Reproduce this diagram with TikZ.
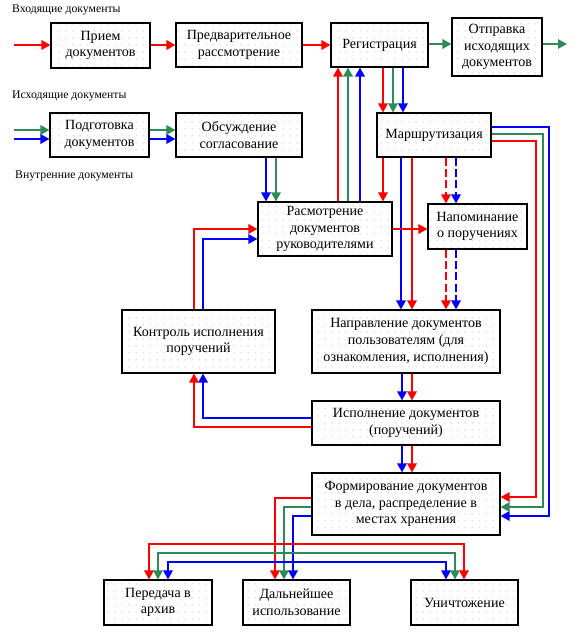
\documentclass[tikz,border=0pt]{standalone}
\usepackage{fontspec}
\setmainfont{Liberation Serif}
\usetikzlibrary{arrows.meta,patterns}

\definecolor{flowred}{RGB}{255,0,0}
\definecolor{flowgreen}{RGB}{46,139,87}
\definecolor{flowblue}{RGB}{0,0,255}

\pgfdeclarepatternformonly{boxdots}{\pgfpointorigin}{\pgfpoint{2.1mm}{2.1mm}}{\pgfpoint{2.1mm}{2.1mm}}{%
  \pgfpathrectangle{\pgfpoint{0.9mm}{0.9mm}}{\pgfpoint{0.3mm}{0.3mm}}\pgfusepath{fill}}

\begin{document}
\begin{tikzpicture}[
  x=0.03cm, y=-0.03cm,
  box/.style={rectangle, draw, line width=0.9pt, preaction={fill=white},
              pattern=boxdots, pattern color=gray!50,
              font=\fontsize{12}{14.3}\selectfont, align=center,
              inner sep=0pt},
  lbl/.style={anchor=west, font=\fontsize{10}{12}\selectfont, inner sep=0pt},
  flow/.style={-{Triangle[length=2.7mm, width=2.8mm]}, line width=1.6pt},
  rarr/.style={flow, flowred},
  garr/.style={flow, flowgreen},
  barr/.style={flow, flowblue},
  later/.style={dash pattern=on 2.4mm off 1mm},
]
\useasboundingbox (0,0) rectangle (578,636);

% Labels
\node[lbl] (lblin) at (12,10) {Входящие документы};
\node[lbl] (lblout) at (12,96) {Исходящие документы};
\node[lbl] (lblint) at (15,176) {Внутренние документы};

% Top row
\node[box, minimum width=2.97cm, minimum height=1.35cm] (priem) at (100.5,45.5) {Прием\\документов};
\node[box, minimum width=3.78cm, minimum height=1.32cm] (predv) at (239,45) {Предварительное\\рассмотрение};
\node[box, minimum width=2.91cm, minimum height=1.32cm] (reg) at (379.5,45) {Регистрация};
\node[box, minimum width=2.7cm, minimum height=1.74cm] (otpr) at (497,47) {Отправка\\исходящих\\документов};

% Second row
\node[box, minimum width=2.97cm, minimum height=1.32cm] (podg) at (99.5,135) {Подготовка\\документов};
\node[box, minimum width=3.78cm, minimum height=1.32cm] (obsuzh) at (239,135) {Обсуждение\\согласование};
\node[box, minimum width=3.42cm, minimum height=1.32cm] (marsh) at (434,135) {Маршрутизация};

% Middle
\node[box, minimum width=4.02cm, minimum height=1.62cm] (rasm) at (325,229) {Расмотрение\\документов\\руководителями};
\node[box, minimum width=2.97cm, minimum height=1.35cm] (napom) at (477.5,226.5) {Напоминание\\о поручениях};
\node[box, minimum width=4.59cm, minimum height=1.89cm] (kontr) at (198.5,341.5) {Контроль исполнения\\поручений};
\node[box, minimum width=5.64cm, minimum height=1.89cm] (naprav) at (406,341.5) {Направление документов\\пользователям (для\\ознакомления, исполнения)};
\node[box, minimum width=5.64cm, minimum height=1.32cm] (ispoln) at (406,423) {Исполнение документов\\(поручений)};
\node[box, minimum width=5.64cm, minimum height=1.86cm] (form) at (406,504) {Формирование документов\\в дела, распределение в\\местах хранения};

% Bottom row
\node[box, minimum width=3.24cm, minimum height=1.35cm] (pered) at (158,602.5) {Передача в\\архив};
\node[box, minimum width=3.21cm, minimum height=1.35cm] (daln) at (296.5,602.5) {Дальнейшее\\использование};
\node[box, minimum width=3.21cm, minimum height=1.35cm] (unich) at (464.5,602.5) {Уничтожение};

% Incoming flow
\coordinate (inR) at (14,45);
\coordinate (outG) at (567,44);
\draw[rarr] (inR) -- (priem.west |- inR);
\draw[rarr] (priem.east |- inR) -- (predv.west |- inR);
\draw[rarr] (predv.east |- inR) -- (reg.west |- inR);
\draw[garr] (reg.east |- outG) -- (otpr.west |- outG);
\draw[garr] (otpr.east |- outG) -- (outG);

% Outgoing flow
\coordinate (inG) at (14,130);
\coordinate (inB) at (14,139);
\draw[garr] (inG) -- (podg.west |- inG);
\draw[barr] (inB) -- (podg.west |- inB);
\draw[garr] (podg.east |- inG) -- (obsuzh.west |- inG);
\draw[barr] (podg.east |- inB) -- (obsuzh.west |- inB);
\draw[barr] (obsuzh.south -| 266,0) -- (rasm.north -| 266,0);
\draw[garr] (obsuzh.south -| 276,0) -- (rasm.north -| 276,0);

% Rasm <-> Reg <-> Marsh
\draw[rarr] (rasm.north -| 338,0) -- (reg.south -| 338,0);
\draw[garr] (rasm.north -| 348,0) -- (reg.south -| 348,0);
\draw[barr] (rasm.north -| 360,0) -- (reg.south -| 360,0);
\draw[rarr] (reg.south -| 383,0) -- (marsh.north -| 383,0);
\draw[garr] (reg.south -| 393,0) -- (marsh.north -| 393,0);
\draw[barr] (reg.south -| 403,0) -- (marsh.north -| 403,0);
\draw[rarr] (marsh.south -| 383,0) -- (rasm.north -| 383,0);

% Marsh -> Napom -> Naprav
\draw[rarr, later] (marsh.south -| 446,0) -- (napom.north -| 446,0);
\draw[barr, later] (marsh.south -| 456,0) -- (napom.north -| 456,0);
\draw[rarr, later] (napom.south -| 446,0) -- (naprav.north -| 446,0);
\draw[barr, later] (napom.south -| 456,0) -- (naprav.north -| 456,0);
\draw[barr] (marsh.south -| 401,0) -- (naprav.north -| 401,0);
\draw[rarr] (marsh.south -| 412,0) -- (naprav.north -| 412,0);
\draw[rarr] (rasm.east |- 0,229) -- (napom.west |- 0,229);

% Kontr -> Rasm
\draw[rarr] (kontr.north -| 194,0) |- (rasm.west |- 0,229);
\draw[barr] (kontr.north -| 203,0) |- (rasm.west |- 0,239);

% Marsh -> Form (right side)
\draw[barr] (marsh.east |- 0,127) -| (549,516) -- (form.east |- 0,516);
\draw[garr] (marsh.east |- 0,134) -| (543,507) -- (form.east |- 0,507);
\draw[rarr] (marsh.east |- 0,141) -| (536,497) -- (form.east |- 0,497);

% Naprav -> Ispoln -> Form, Ispoln -> Kontr
\draw[barr] (naprav.south -| 402,0) -- (ispoln.north -| 402,0);
\draw[rarr] (naprav.south -| 412,0) -- (ispoln.north -| 412,0);
\draw[barr] (ispoln.west |- 0,418) -| (kontr.south -| 203,0);
\draw[rarr] (ispoln.west |- 0,427) -| (kontr.south -| 194,0);
\draw[barr] (ispoln.south -| 402,0) -- (form.north -| 402,0);
\draw[rarr] (ispoln.south -| 412,0) -- (form.north -| 412,0);

% Form -> storage
\draw[rarr] (form.west |- 0,498) -| (daln.north -| 275,0);
\draw[garr] (form.west |- 0,507) -| (daln.north -| 284,0);
\draw[barr] (form.west |- 0,516) -| (daln.north -| 293,0);
\coordinate (busR) at (275,544);
\coordinate (busG) at (284,553);
\coordinate (busB) at (293,562);
\draw[rarr] (busR) -| (pered.north -| 149,0);
\draw[rarr] (busR) -| (unich.north -| 464,0);
\draw[garr] (busG) -| (pered.north -| 158,0);
\draw[garr] (busG) -| (unich.north -| 455,0);
\draw[barr] (busB) -| (pered.north -| 168,0);
\draw[barr] (busB) -| (unich.north -| 446,0);

\end{tikzpicture}
\end{document}
